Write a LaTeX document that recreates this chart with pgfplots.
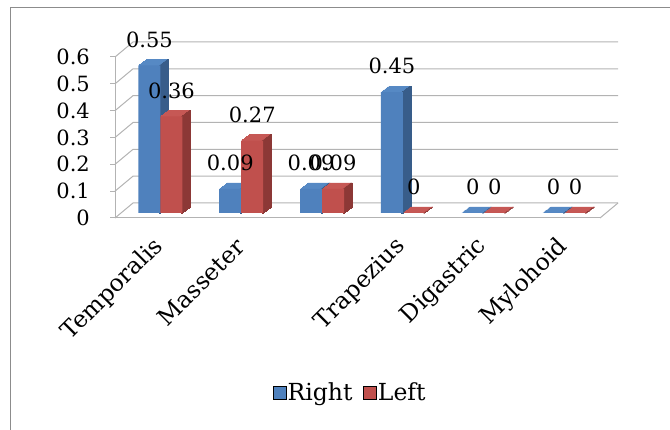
\documentclass[border=0pt]{standalone}
\usepackage{pgfplots}
\pgfplotsset{compat=1.18}
\usepackage{pgfplotstable}
\usepackage{fontspec}
\setmainfont{DejaVu Serif}
\definecolor{bfront}{HTML}{4F81BD}
\definecolor{btop}{HTML}{5689C4}
\definecolor{bside}{HTML}{385D8A}
\definecolor{rfront}{HTML}{C0504D}
\definecolor{rtop}{HTML}{C65855}
\definecolor{rside}{HTML}{8C3836}
\definecolor{gridc}{HTML}{B3B3B3}
\definecolor{framec}{HTML}{8C8C8C}
\pgfplotstableread{
idx right left
0 0.55 0.36
1 0.09 0.27
2 0.09 0.09
3 0.45 0
4 0 0
5 0 0
}\data
\begin{document}
\fontsize{21}{24}\selectfont
\begin{tikzpicture}[x=1pt,y=1pt]
\useasboundingbox (0pt,0pt) rectangle (670pt,430pt);
\draw[framec, line width=1pt] (10pt,-5pt) -- (10pt,422pt) -- (680pt,422pt);
\begin{axis}[
  at={(115pt,212pt)}, anchor=south west,
  scale only axis, width=485pt, height=161pt,
  xmin=-0.5, xmax=5.5, ymin=0, ymax=0.6, clip=false,
  axis x line*=bottom, axis y line*=left,
  axis line style={gridc, line width=1pt},
  ytick={0,0.1,0.2,0.3,0.4,0.5,0.6},
  /pgf/number format/assume math mode=true,
  yticklabel style={/pgf/number format/fixed, /pgf/number format/precision=1, xshift=-13pt},
  ytick style={gridc, line width=1pt},
  major tick length=5pt, tick align=outside,
  xtick={0,...,5},
  xticklabels={Temporalis,Masseter,,Trapezius,Digastric,Mylohoid},
  xtick style={draw=none},
  minor xtick={-0.5,0.5,1.5,2.5,3.5,4.5,5.5},
  minor x tick style={gridc, line width=1pt},
  minor tick length=8pt,
  xticklabel style={font=\fontsize{23.5}{26}\selectfont, xshift=9pt, yshift=-15pt, rotate=45, anchor=east},
  legend image code/.code={\fill[#1] (0pt,-6.5pt) rectangle (13pt,6.5pt);},
  legend style={at={(0.4845,-1.087)}, anchor=center, draw=none, fill=none,
    font=\fontsize{23.5}{26}\selectfont,
    legend columns=2, nodes={inner xsep=1.5pt},
    /tikz/every even column/.append style={column sep=9pt}},
]
% walls and floor
\pgfplotsinvokeforeach{0,0.1,0.2,0.3,0.4,0.5,0.6}{
  \draw[gridc, line width=1pt] (axis cs:-0.5,#1) -- ++(18pt,15pt) -- ++(485pt,0pt);
}
\draw[gridc, line width=1pt] (axis cs:5.5,0) -- ++(18pt,15pt);
% Right series
\pgfplotsinvokeforeach{1,...,8}{
  \addplot[ybar, forget plot, bar width=22pt, bar shift=-6pt, fill=btop, draw=btop, line width=0.6pt,
    xshift=#1pt, yshift={5pt+0.75*#1pt}] table[x=idx,y=right]{\data};
}
\pgfplotsinvokeforeach{0,...,8}{
  \addplot[ybar, forget plot, bar width=1.4pt, bar shift=4.3pt, fill=bside, draw=bside, line width=0.3pt,
    xshift=#1pt, yshift={5pt+0.75*#1pt}] table[x=idx,y=right]{\data};
}
\addplot[ybar, forget plot, bar width=22pt, bar shift=-6pt, fill=bfront, draw=none, yshift=5pt]
  table[x=idx,y=right]{\data};
% Left series
\pgfplotsinvokeforeach{1,...,8}{
  \addplot[ybar, forget plot, bar width=22pt, bar shift=16pt, fill=rtop, draw=rtop, line width=0.6pt,
    xshift=#1pt, yshift={5pt+0.75*#1pt}] table[x=idx,y=left]{\data};
}
\pgfplotsinvokeforeach{0,...,8}{
  \addplot[ybar, forget plot, bar width=1.4pt, bar shift=26.3pt, fill=rside, draw=rside, line width=0.3pt,
    xshift=#1pt, yshift={5pt+0.75*#1pt}] table[x=idx,y=left]{\data};
}
\addplot[ybar, forget plot, bar width=22pt, bar shift=16pt, fill=rfront, draw=none, yshift=5pt]
  table[x=idx,y=left]{\data};
% value labels
\addplot[ybar, forget plot, bar width=22pt, bar shift=-6pt, fill=none, draw=none, yshift=5pt,
  nodes near coords, nodes near coords style={anchor=center, xshift=-6pt, yshift=26pt, text=black,
  /pgf/number format/fixed, /pgf/number format/precision=2}]
  table[x=idx,y=right]{\data};
\addplot[ybar, forget plot, bar width=22pt, bar shift=16pt, fill=none, draw=none, yshift=5pt,
  nodes near coords, nodes near coords style={anchor=center, xshift=16pt, yshift=26pt, text=black,
  /pgf/number format/fixed, /pgf/number format/precision=2}]
  table[x=idx,y=left]{\data};
\addlegendimage{fill=bfront}
\addlegendentry{Right}
\addlegendimage{fill=rfront}
\addlegendentry{Left}
\end{axis}
\end{tikzpicture}
\end{document}
